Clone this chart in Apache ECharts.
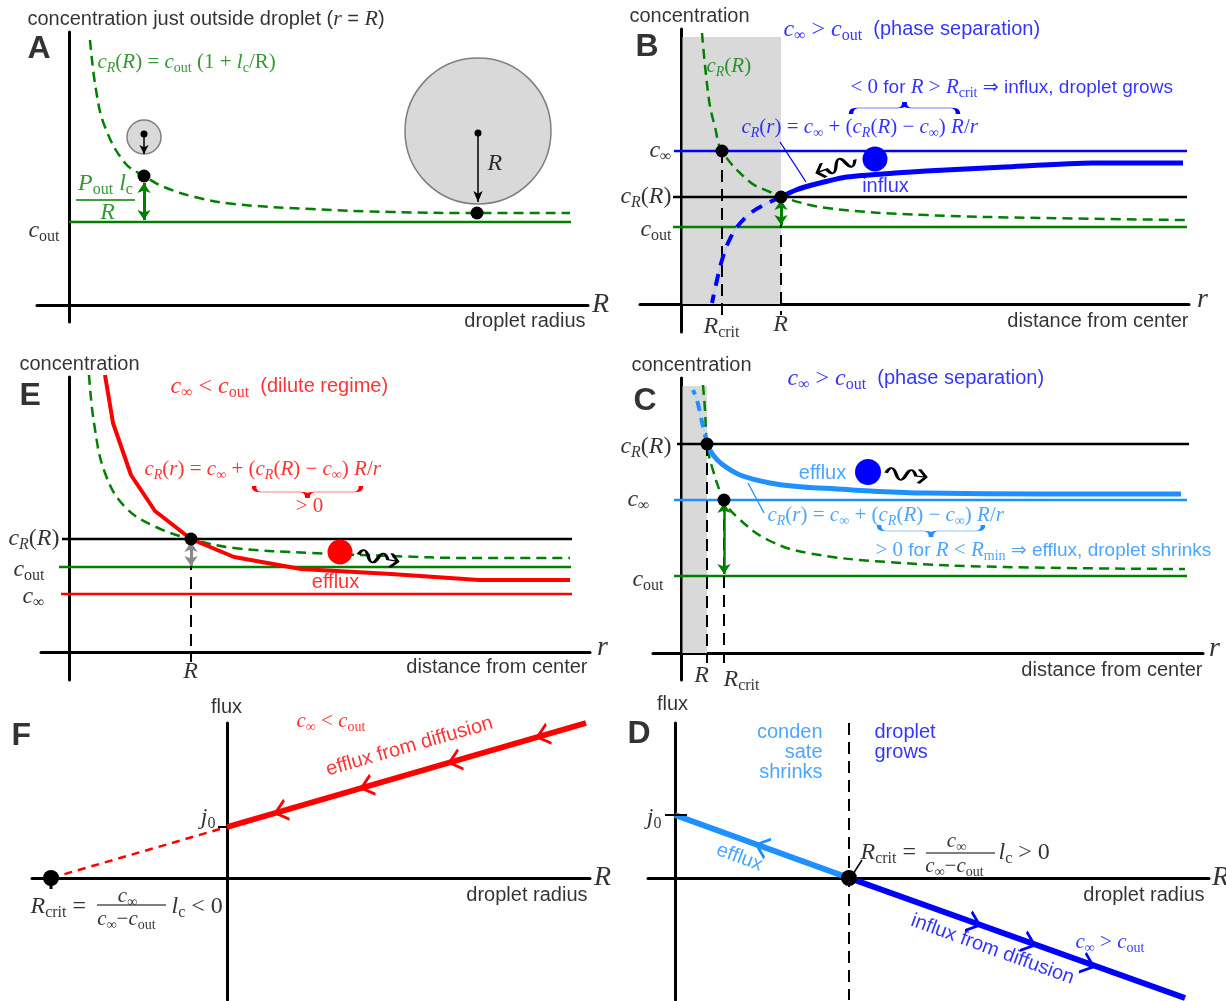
<!DOCTYPE html>
<html><head><meta charset="utf-8">
<script src="https://cdn.jsdelivr.net/npm/echarts@6/dist/echarts.min.js"></script>
<style>html,body{margin:0;padding:0;background:#fff}#c{width:1226px;height:1001px}</style>
</head><body><div id="c"></div>
<script>
// ================= DATA (arbitrary units) =================
// Panel A: concentration just outside a droplet vs droplet radius
const A_cOut = 41.5;
const A_cR = [[4.2,132.5],[5.4,107.5],[7.2,89],[11.2,71],[15,64.5],[19,59],[25.2,54],[33,50.5],[48.6,48],[64.4,46.5],[81.6,46],[100.2,46]];
const A_marked = [[15,64.5],[81.6,46]];
const A_smallDrop = [[15,84]];
const A_bigDrop = [[81.8,87]];
const A_xEnd = 100.4;

// Panel B: phase separation, R > Rcrit (influx)
const B_cInf = 76.5, B_cRR = 53.5, B_cOut = 38.5, B_R = 20, B_Rcrit = 8.2;
const B_cR = [[4.2,135.5],[5.6,102],[6.8,88.5],[8.2,76.5],[13.8,61],[17.8,56],[20,53.5],[29.2,48],[49,44.5],[72.8,43],[100.8,42]];
const B_profile = [[20,53.5],[23,57],[27,60],[33.2,63.5],[49,66.5],[64.8,68.5],[82.2,70.5],[100.4,70.5]];
const B_profileInside = [[20,53.5],[17.4,50.5],[14.2,46],[11.2,38.5],[9.4,30.5],[8.2,22],[7.2,12],[6.2,0.5]];
const B_blob = [[38.8,72.5]];

// Panel E: dilute regime (efflux)
const E_cRR = 56.5, E_cOut = 42.5, E_cInf = 29, E_R = 24.4;
const E_cR = [[4,138.5],[5,114.5],[7.2,89.5],[11.2,72.5],[17.4,62.5],[24.4,56.5],[33,52],[48.6,49.5],[64.4,48],[80,47],[100.2,47]];
const E_profile = [[7.2,138.5],[8.8,114.5],[12.4,88.5],[17.2,70.5],[24.4,56.5],[33,47.5],[46.4,41.5],[64.4,39],[82,36],[100.2,36]];
const E_blob = [[54.2,50]];

// Panel C: phase separation, R < Rcrit (efflux)
const C_cRR = 104.5, C_cInf = 76.5, C_cOut = 38.5, C_R = 5.2, C_Rcrit = 8.6;
const C_cR = [[4.4,134],[4.8,121.5],[5.2,104.5],[6.2,93],[8.6,76.5],[11.2,68],[17.4,56.5],[25.4,50],[41.2,45.5],[64.8,43],[100.8,42]];
const C_profile = [[5.2,104.5],[6.4,99],[8.4,94],[11.8,89],[17.8,85],[24.4,83],[31.2,82],[37.8,81],[49,80],[72.8,79.5],[100,79.5]];
const C_profileInside = [[5.2,104.5],[4.2,115.5],[3.2,126.5],[2.4,131.5]];
const C_blob = [[37.4,90.5]];

// Panel F: flux vs droplet radius, dilute
const F_j0 = 25.5, F_Rcrit = -35.2;
const F_flux = [[0,25.5],[71.8,77.5]];
const F_extrap = [[-35.2,0],[0,25.5]];
const F_arrows = [[10.8,33.3],[28,45.8],[45.6,58.5],[63.2,71.3]];

// Panel D: flux vs droplet radius, phase separation
const D_j0 = 31.5, D_Rcrit = 34.8;
const D_efflux = [[0,31.5],[34.8,0]];
const D_influx = [[34.8,0],[102,-60]];
const D_effluxArrows = [[17.4,15.7]];
const D_influxArrows = [[59.8,-22.6],[70.8,-32.6],[82.6,-43.3]];

// ================= LAYOUT =================
const PX = 5, PY = 2; // pixels per unit
const FRAMES = [
  {ox:69,  oy:305, l:37,  r:588,  t:32,  b:322},  // A
  {ox:681, oy:304, l:640, r:1189, t:29,  b:332},  // B
  {ox:69,  oy:652, l:41,  r:590,  t:377, b:680},  // E
  {ox:681, oy:653, l:653, r:1203, t:378, b:680},  // C
  {ox:227, oy:878, l:32,  r:590,  t:723, b:1000}, // F
  {ox:675, oy:878, l:648, r:1209, t:723, b:1000}  // D
];
const GREEN='#008000', BLUE='#0000FF', LBLUE='#1E90FF', RED='#FF0000', BLACK='#000000', SHADE='#D9D9D9';
const SERIF="'Liberation Serif','DejaVu Serif',serif";
const SANS="'Liberation Sans','DejaVu Sans',sans-serif";
const RICH = {
  n:{fontFamily:SANS,fontSize:20,color:'#000'},
  m:{fontFamily:SANS,fontSize:20},
  ms:{fontFamily:SANS,fontSize:19},
  mm:{fontFamily:SANS,fontSize:20,lineHeight:20},
  ni:{fontFamily:SERIF,fontStyle:'italic',fontSize:22,color:'#000'},
  L:{fontFamily:SANS,fontWeight:'bold',fontSize:32,color:'#000'},
  i:{fontFamily:SERIF,fontStyle:'italic',fontSize:24},
  s:{fontFamily:SERIF,fontSize:24},
  u:{fontFamily:SERIF,fontSize:16,padding:[12,0,0,0]},
  v:{fontFamily:SERIF,fontStyle:'italic',fontSize:16,padding:[12,0,0,0]},
  fi:{fontFamily:SERIF,fontStyle:'italic',fontSize:21},
  fs:{fontFamily:SERIF,fontSize:21},
  fu:{fontFamily:SERIF,fontSize:14,padding:[11,0,0,0]},
  fv:{fontFamily:SERIF,fontStyle:'italic',fontSize:14,padding:[11,0,0,0]},
  bi:{fontFamily:SERIF,fontStyle:'italic',fontSize:28}
};

const S = [];
function ln(g, data, color, width, o) {
  o = o || {};
  S.push({type:'line', xAxisIndex:g, yAxisIndex:g, data:data, symbol:'none', silent:true, clip:false,
    z:o.z||3, smooth:o.smooth||false,
    lineStyle:{color:color, width:width, type:o.dash||'solid', cap:'butt', join:'round'}});
}
function dots(g, data, size, color, o) {
  o = o || {};
  S.push({type:'scatter', xAxisIndex:g, yAxisIndex:g, data:data, symbol:'circle', symbolSize:size, silent:true, clip:false,
    z:o.z||5, itemStyle:{color:color, borderColor:o.border||color, borderWidth:o.bw||0, opacity:1}});
}
function arrow(g, from, to, color, width, ends, sizes) {
  S.push({type:'line', xAxisIndex:g, yAxisIndex:g, data:[], symbol:'none', silent:true, z:6,
    markLine:{silent:true, animation:false, symbol:ends, symbolSize:sizes, label:{show:false},
      lineStyle:{color:color, width:width, type:'solid', opacity:1},
      data:[[{coord:from},{coord:to}]]}});
}
function glyph(g, data, path, size, rot, color, bw) {
  S.push({type:'scatter', xAxisIndex:g, yAxisIndex:g, data:data, symbol:path, symbolSize:size, symbolRotate:rot,
    symbolKeepAspect:false, silent:true, clip:false, z:6,
    itemStyle:{color:'rgba(0,0,0,0)', borderColor:color, borderWidth:bw, opacity:1}});
}
function shade(g, x0, x1, y1) {
  S.push({type:'line', xAxisIndex:g, yAxisIndex:g, data:[], silent:true, z:1,
    markArea:{silent:true, animation:false, itemStyle:{color:SHADE}, data:[[{coord:[x0,0]},{coord:[x1,y1]}]]}});
}
const WAVE='path://M0,6 Q5,-2 10,6 Q15,14 20,6 Q25,-2 30,6 L40,6 M33,1 L40,6 L33,11';
const BRACE='path://M0,12 Q0,6 6,6 L44,6 Q50,6 50,0 Q50,6 56,6 L94,6 Q100,6 100,12';
const CHEV='path://M10,0 L0,6 L10,12';

// ---------- Panel A (grid 0) ----------
ln(0, [[0,A_cOut],[A_xEnd,A_cOut]], GREEN, 2.5);
ln(0, A_cR, GREEN, 2.5, {dash:[10,6], smooth:0.4});
dots(0, A_smallDrop, 34, SHADE, {border:'#7f7f7f', bw:1.5, z:2});
dots(0, A_bigDrop, 146, SHADE, {border:'#7f7f7f', bw:1.5, z:2});
arrow(0, [A_smallDrop[0][0],85.5], [A_smallDrop[0][0],75.5], BLACK, 1.5, ['circle','arrow'], [7,9]);
arrow(0, [A_bigDrop[0][0],86], [A_bigDrop[0][0],51.5], BLACK, 1.5, ['circle','arrow'], [7,11]);
arrow(0, [A_marked[0][0],61], [A_marked[0][0],A_cOut+1], GREEN, 3, ['arrow','arrow'], [10,10]);
dots(0, A_marked, 13, BLACK);
ln(0, [[1.4,52.5],[13.2,52.5]], GREEN, 1.5);

// ---------- Panel B (grid 1) ----------
shade(1, 0.3, B_R, 133.5);
ln(1, [[-1.4,B_cInf],[101.2,B_cInf]], BLUE, 2.5);
ln(1, [[-1.6,B_cRR],[101.2,B_cRR]], BLACK, 2.5);
ln(1, [[-1.6,B_cOut],[101.2,B_cOut]], GREEN, 2.5);
ln(1, B_cR, GREEN, 2.5, {dash:[10,6], smooth:0.4});
ln(1, [[B_Rcrit,B_cInf],[B_Rcrit,-5.5]], BLACK, 2, {dash:[12,7]});
ln(1, [[B_R,B_cRR],[B_R,-5.5]], BLACK, 2, {dash:[12,7]});
ln(1, B_profile, BLUE, 5, {smooth:0.2});
ln(1, B_profileInside, '#B4BEFF', 1, {smooth:0.35});
ln(1, B_profileInside, BLUE, 4, {smooth:0.35, dash:[12,9]});
arrow(1, [B_R,B_cRR-1.5], [B_R,B_cOut+1], GREEN, 3, ['arrow','arrow'], [10,10]);
dots(1, [[B_Rcrit,B_cInf],[B_R,B_cRR]], 13, BLACK);
dots(1, B_blob, 25, BLUE);
ln(1, [[19.8,81],[25,61]], BLUE, 1.3);
glyph(1, [[31,69]], WAVE, [40,15], 199, BLACK, 2.2);
glyph(1, [[44.7,98]], BRACE, [107,12], 0, BLUE, 1.5);

// ---------- Panel E (grid 2) ----------
ln(2, [[-1.4,E_cRR],[100.6,E_cRR]], BLACK, 2.5);
ln(2, [[-2,E_cOut],[100.4,E_cOut]], GREEN, 2.5);
ln(2, [[-1.6,E_cInf],[100.6,E_cInf]], RED, 2.5);
ln(2, E_cR, GREEN, 2.5, {dash:[10,6], smooth:0.4});
ln(2, E_profile, RED, 4);
ln(2, [[E_R,E_cRR],[E_R,-5]], BLACK, 2, {dash:[12,7]});
arrow(2, [E_R,E_cRR-1.5], [E_R,E_cOut+0.5], '#888888', 3, ['arrow','arrow'], [10,10]);
dots(2, [[E_R,E_cRR]], 13, BLACK);
dots(2, E_blob, 25, RED);
glyph(2, [[61.8,47]], WAVE, [40,14], -10, BLACK, 2.2);
glyph(2, [[47.7,80]], BRACE, [107,12], 180, RED, 1.5);

// ---------- Panel C (grid 3) ----------
shade(3, 0.3, C_R, 133.5);
ln(3, [[-0.8,C_cRR],[101.6,C_cRR]], BLACK, 2.5);
ln(3, [[-1.4,C_cInf],[101.2,C_cInf]], LBLUE, 2.5);
ln(3, [[-1.4,C_cOut],[101.2,C_cOut]], GREEN, 2.5);
ln(3, C_cR, GREEN, 2.5, {dash:[10,6], smooth:0.4});
ln(3, [[C_R,C_cRR],[C_R,-5]], BLACK, 2, {dash:[12,7]});
ln(3, [[C_Rcrit,C_cInf],[C_Rcrit,-5]], BLACK, 2, {dash:[12,7]});
ln(3, C_profile, LBLUE, 5, {smooth:0.4});
ln(3, C_profileInside, '#B4D4FF', 1, {smooth:0.3});
ln(3, C_profileInside, LBLUE, 4, {smooth:0.3, dash:[10,7]});
arrow(3, [C_Rcrit,C_cInf-1.5], [C_Rcrit,C_cOut+1], GREEN, 2.5, ['arrow','arrow'], [10,10]);
dots(3, [[C_R,C_cRR],[C_Rcrit,C_cInf]], 13, BLACK);
dots(3, C_blob, 26, BLUE);
ln(3, [[13.4,85],[16.6,70]], LBLUE, 1.3);
glyph(3, [[45,89]], WAVE, [40,14], -6, BLACK, 2.2);
glyph(3, [[50,61]], BRACE, [104,12], 180, LBLUE, 1.5);

// ---------- Panel F (grid 4) ----------
ln(4, F_extrap, RED, 2.5, {dash:[8,6]});
ln(4, F_flux, RED, 5.5);
ln(4, [[F_Rcrit,0],[F_Rcrit,-5.5]], BLACK, 3);
ln(4, [[-1.8,F_j0],[0,F_j0]], BLACK, 2);
dots(4, [[F_Rcrit,0]], 16, BLACK);
glyph(4, F_arrows, CHEV, [12,20], 16, RED, 2.5);
ln(4, [[-26,-13.5],[-12.2,-13.5]], BLACK, 1.2);

// ---------- Panel D (grid 5) ----------
ln(5, [[D_Rcrit,77.5],[D_Rcrit,-61]], BLACK, 2, {dash:[12,7]});
ln(5, D_efflux, LBLUE, 6);
ln(5, D_influx, BLUE, 6);
ln(5, [[-2,D_j0],[2.4,D_j0]], BLACK, 2);
dots(5, [[D_Rcrit,0]], 16, BLACK);
glyph(5, D_effluxArrows, CHEV, [12,20], -20, LBLUE, 2.5);
glyph(5, D_influxArrows, CHEV, [12,20], 160, BLUE, 2.5);
ln(5, [[37.4,9],[35.6,2]], BLACK, 1.5);
ln(5, [[50.2,12.5],[64,12.5]], BLACK, 1.2);

// ================= TEXT =================
const cInf='{i|c}{u|∞}', cOut='{i|c}{u|out}', cRR='{i|c}{v|R}{s|(}{i|R}{s|)}';
const fcInf='{fi|c}{fu|∞}', fcOut='{fi|c}{fu|out}';
const fFormula='{fi|c}{fv|R}{fs|(}{fi|r}{fs|) = }{fi|c}{fu|∞}{fs| + (}{fi|c}{fv|R}{fs|(}{fi|R}{fs|) − }{fi|c}{fu|∞}{fs|) }{fi|R}{fs|/}{fi|r}';
function T(g,x,y,txt,o){ o=o||{}; return {g:g,x:x,y:y,txt:txt,c:o.c||BLACK,a:o.a||'left',va:o.va||'middle',r:o.r||0}; }
const NOTES = [
  // A
  T(0,-8.2,142.5,'{n|concentration just outside droplet (}{ni|r}{n| = }{ni|R}{n|)}'),
  T(0,-8.2,127.5,'{L|A}'),
  T(0,5.8,121,'{fi|c}{fv|R}{fs|(}{fi|R}{fs|) = }{fi|c}{fu|out}{fs| (1 + }{fi|l}{fu|c}{fs|/R)}',{c:GREEN}),
  T(0,7.4,60.5,'{i|P}{u|out}{i| l}{u|c}',{c:GREEN,a:'center'}),
  T(0,7.8,46,'{i|R}',{c:GREEN,a:'center'}),
  T(0,-1.8,37,cOut,{a:'right'}),
  T(0,83.8,70.5,'{i|R}'),
  T(0,106.4,0,'{bi|R}',{a:'center'}),
  T(0,103.4,-8.5,'{n|droplet radius}',{a:'right'}),
  // B
  T(1,-10.2,143.5,'{n|concentration}'),
  T(1,-9,128,'{L|B}'),
  T(1,20.6,137,cInf+'{s| > }'+cOut+'{m|  (phase separation)}',{c:BLUE}),
  T(1,5.2,118.5,'{fi|c}{fv|R}{fs|(}{fi|R}{fs|)}',{c:GREEN}),
  T(1,34,108,'{fs|< 0 }{ms|for }{fi|R}{fs| > }{fi|R}{fu|crit}{ms| ⇒ influx, droplet grows}',{c:BLUE}),
  T(1,12.2,88,fFormula,{c:BLUE}),
  T(1,41,58.5,'{m|influx}',{c:BLUE,a:'center'}),
  T(1,-1.8,76.5,cInf,{a:'right'}),
  T(1,-1.8,53.5,cRR,{a:'right'}),
  T(1,-1.8,37,cOut,{a:'right'}),
  T(1,8.2,-11.5,'{i|R}{u|crit}',{a:'center'}),
  T(1,20,-10.5,'{i|R}',{a:'center'}),
  T(1,104.4,2,'{bi|r}',{a:'center'}),
  T(1,101.6,-9,'{n|distance from center}',{a:'right'}),
  // E
  T(2,-9.8,143.5,'{n|concentration}'),
  T(2,-9.8,127.5,'{L|E}'),
  T(2,20.4,132.5,cInf+'{s| < }'+cOut+'{m|  (dilute regime)}',{c:RED}),
  T(2,15.2,91,fFormula,{c:RED}),
  T(2,48.2,72.5,'{fs|> 0}',{c:RED,a:'center'}),
  T(2,53.4,34.5,'{m|efflux}',{c:RED,a:'center'}),
  T(2,-1.8,56.5,cRR,{a:'right'}),
  T(2,-4.8,41,cOut,{a:'right'}),
  T(2,-4.8,27.5,cInf,{a:'right'}),
  T(2,24.4,-10,'{i|R}',{a:'center'}),
  T(2,106.8,2,'{bi|r}',{a:'center'}),
  T(2,103.8,-8,'{n|distance from center}',{a:'right'}),
  // C
  T(3,-9.8,143.5,'{n|concentration}'),
  T(3,-9.4,125.5,'{L|C}'),
  T(3,21.4,137,cInf+'{s| > }'+cOut+'{m|  (phase separation)}',{c:BLUE}),
  T(3,28.4,89.5,'{m|efflux}',{c:LBLUE,a:'center'}),
  T(3,17.4,68.5,fFormula,{c:LBLUE}),
  T(3,39,51,'{fs|> 0 }{ms|for }{fi|R}{fs| < }{fi|R}{fu|min}{ms| ⇒ efflux, droplet shrinks}',{c:LBLUE}),
  T(3,-1.8,103,cRR,{a:'right'}),
  T(3,-6.2,76.5,cInf,{a:'right'}),
  T(3,-3.4,36.5,cOut,{a:'right'}),
  T(3,4.2,-11.5,'{i|R}',{a:'center'}),
  T(3,8.6,-13.5,'{i|R}{u|crit}'),
  T(3,106.8,2,'{bi|r}',{a:'center'}),
  T(3,104.4,-9,'{n|distance from center}',{a:'right'}),
  // F
  T(4,-43,70.5,'{L|F}'),
  T(4,0,85,'{n|flux}',{a:'center'}),
  T(4,14,78,fcInf+'{fs| < }'+fcOut,{c:RED}),
  T(4,36.6,65.5,'{m|efflux from diffusion}',{c:RED,a:'center',r:16}),
  T(4,-2.2,30,'{i|j}{u|0}',{a:'right'}),
  T(4,-39.2,-14.5,'{i|R}{u|crit}{s| = }'),
  T(4,-19.8,-9.5,fcInf,{a:'center'}),
  T(4,-20,-21,fcInf+'{fs|−}'+fcOut,{a:'center'}),
  T(4,-11,-14.5,'{i|l}{u|c}{s| < 0}'),
  T(4,75.2,0,'{bi|R}',{a:'center'}),
  T(4,72.2,-9,'{n|droplet radius}',{a:'right'}),
  // D
  T(5,-9.4,71.5,'{L|D}'),
  T(5,-0.4,86.5,'{n|flux}',{a:'center'}),
  T(5,29.6,77.5,'{mm|conden}\n{mm|sate}\n{mm|shrinks}',{c:LBLUE,a:'right',va:'top'}),
  T(5,40,77.5,'{mm|droplet}\n{mm|grows}',{c:BLUE,va:'top'}),
  T(5,-2.6,30,'{i|j}{u|0}',{a:'right'}),
  T(5,13,10,'{m|efflux}',{c:LBLUE,a:'center',r:-20}),
  T(5,37.2,12.5,'{i|R}{u|crit}{s| = }'),
  T(5,56.4,18,fcInf,{a:'center'}),
  T(5,56,5.5,fcInf+'{fs|−}'+fcOut,{a:'center'}),
  T(5,64.8,12.5,'{i|l}{u|c}{s| > 0}'),
  T(5,63.6,-36,'{m|influx from diffusion}',{c:BLUE,a:'center',r:-20}),
  T(5,80.2,-32.5,fcInf+'{fs| > }'+fcOut,{c:BLUE}),
  T(5,109.2,0,'{bi|R}',{a:'center'}),
  T(5,106,-9,'{n|droplet radius}',{a:'right'})
];
for (let g = 0; g < 6; g++) {
  S.push({type:'scatter', xAxisIndex:g, yAxisIndex:g, z:10, clip:false, silent:true, symbolSize:1,
    itemStyle:{color:'rgba(0,0,0,0)'},
    label:{show:true, position:[0,0], formatter:function(p){return p.data.txt;}, rich:RICH,
      textBorderWidth:0, textBorderColor:'transparent', fontFamily:SANS, fontSize:20},
    data: NOTES.filter(n => n.g === g).map(n => ({value:[n.x,n.y], txt:n.txt,
      label:{color:n.c, align:n.a, verticalAlign:n.va, rotate:n.r}}))
  });
}

const axisBase = {type:'value', axisTick:{show:false}, axisLabel:{show:false}, splitLine:{show:false},
  axisLine:{show:true, onZero:true, lineStyle:{color:BLACK, width:3}}};
const option = {
  animation:false,
  backgroundColor:'#fff',
  grid: FRAMES.map(f => ({left:f.l, top:f.t, width:f.r-f.l, height:f.b-f.t})),
  xAxis: FRAMES.map((f,i) => Object.assign({}, axisBase, {gridIndex:i, min:(f.l-f.ox)/PX, max:(f.r-f.ox)/PX})),
  yAxis: FRAMES.map((f,i) => Object.assign({}, axisBase, {gridIndex:i, min:-(f.b-f.oy)/PY, max:(f.oy-f.t)/PY})),
  series: S
};
const chart = echarts.init(document.getElementById('c'));
chart.setOption(option);
</script></body></html>
